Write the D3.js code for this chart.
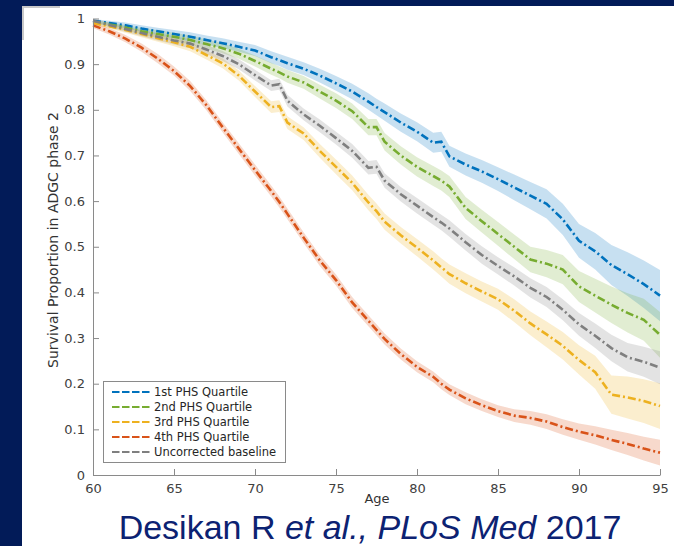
<!DOCTYPE html>
<html>
<head>
<meta charset="utf-8">
<script src="https://cdn.jsdelivr.net/npm/d3@7"></script>
<style>
  body { margin: 0; background: #021b58; }
  svg { display: block; }
</style>
</head>
<body>
<div id="container"></div>
<script>
const width = 674;
const height = 546;

const ages = [60, 61, 62, 63, 64, 65, 66, 67, 68, 69, 70, 71, 71.5, 72, 73, 74, 75, 76, 77, 77.5,
  78, 79, 80, 81, 81.5, 82, 83, 84, 85, 86, 87, 88, 89, 90, 91, 92, 93, 94, 95];

const q1 = [0.995, 0.99, 0.985, 0.978, 0.972, 0.966, 0.96, 0.953, 0.946, 0.938, 0.93, 0.915, 0.909, 0.902, 0.89, 0.875, 0.858, 0.84, 0.818, 0.806,
  0.795, 0.772, 0.752, 0.728, 0.73, 0.698, 0.68, 0.665, 0.648, 0.63, 0.612, 0.594, 0.56, 0.513, 0.49, 0.46, 0.44, 0.418, 0.393];
const q2 = [0.993, 0.987, 0.98, 0.972, 0.966, 0.96, 0.953, 0.944, 0.935, 0.923, 0.907, 0.89, 0.882, 0.873, 0.86, 0.84, 0.82, 0.797, 0.762, 0.762,
  0.73, 0.7, 0.675, 0.655, 0.645, 0.632, 0.585, 0.556, 0.528, 0.5, 0.472, 0.463, 0.45, 0.413, 0.393, 0.373, 0.355, 0.34, 0.307];
const q3 = [0.99, 0.983, 0.975, 0.966, 0.957, 0.948, 0.938, 0.92, 0.902, 0.875, 0.84, 0.806, 0.808, 0.772, 0.748, 0.71, 0.675, 0.64, 0.597, 0.578,
  0.555, 0.525, 0.498, 0.47, 0.455, 0.44, 0.42, 0.402, 0.385, 0.36, 0.332, 0.308, 0.283, 0.252, 0.225, 0.176, 0.17, 0.162, 0.151];
const q4 = [0.985, 0.972, 0.956, 0.936, 0.912, 0.885, 0.852, 0.81, 0.762, 0.715, 0.668, 0.622, 0.598, 0.572, 0.52, 0.47, 0.427, 0.378, 0.338, 0.318,
  0.298, 0.265, 0.237, 0.215, 0.2, 0.187, 0.168, 0.153, 0.14, 0.13, 0.125, 0.117, 0.105, 0.095, 0.087, 0.077, 0.068, 0.058, 0.049];
const base = [0.995, 0.986, 0.977, 0.968, 0.96, 0.952, 0.945, 0.932, 0.918, 0.9, 0.876, 0.853, 0.856, 0.82, 0.79, 0.765, 0.738, 0.71, 0.673, 0.675,
  0.645, 0.615, 0.59, 0.565, 0.553, 0.54, 0.51, 0.482, 0.458, 0.435, 0.41, 0.39, 0.362, 0.33, 0.305, 0.278, 0.258, 0.248, 0.235];

// half width of the shaded band
const q1Band = [0.004, 0.005, 0.006, 0.007, 0.008, 0.009, 0.01, 0.01, 0.011, 0.011, 0.012, 0.013, 0.013, 0.014, 0.014, 0.015, 0.016, 0.017, 0.018, 0.018,
  0.019, 0.02, 0.021, 0.022, 0.022, 0.023, 0.024, 0.025, 0.026, 0.028, 0.03, 0.032, 0.034, 0.037, 0.04, 0.044, 0.048, 0.052, 0.056];
const q2Band = [0.004, 0.005, 0.006, 0.007, 0.008, 0.009, 0.01, 0.01, 0.011, 0.011, 0.012, 0.013, 0.013, 0.014, 0.014, 0.015, 0.016, 0.017, 0.018, 0.018,
  0.019, 0.02, 0.021, 0.022, 0.022, 0.023, 0.024, 0.025, 0.026, 0.027, 0.028, 0.03, 0.032, 0.034, 0.037, 0.04, 0.043, 0.046, 0.05];
const q3Band = [0.004, 0.005, 0.006, 0.007, 0.008, 0.009, 0.01, 0.01, 0.011, 0.011, 0.012, 0.013, 0.013, 0.014, 0.014, 0.015, 0.016, 0.016, 0.017, 0.017,
  0.018, 0.018, 0.019, 0.02, 0.02, 0.021, 0.022, 0.022, 0.023, 0.025, 0.026, 0.028, 0.03, 0.032, 0.036, 0.042, 0.046, 0.048, 0.05];
const q4Band = [0.006, 0.007, 0.008, 0.009, 0.01, 0.01, 0.011, 0.011, 0.011, 0.012, 0.012, 0.012, 0.012, 0.012, 0.012, 0.012, 0.012, 0.012, 0.012, 0.012,
  0.012, 0.012, 0.012, 0.012, 0.012, 0.012, 0.013, 0.013, 0.013, 0.014, 0.015, 0.016, 0.017, 0.018, 0.02, 0.022, 0.024, 0.026, 0.028];
const baseBand = [0.004, 0.005, 0.006, 0.007, 0.008, 0.009, 0.01, 0.01, 0.011, 0.011, 0.012, 0.012, 0.012, 0.013, 0.013, 0.014, 0.014, 0.015, 0.015, 0.015,
  0.016, 0.016, 0.017, 0.017, 0.017, 0.018, 0.018, 0.019, 0.019, 0.02, 0.021, 0.022, 0.023, 0.025, 0.027, 0.029, 0.031, 0.033, 0.036];

const names = ['1st PHS Quartile', '2nd PHS Quartile', '3rd PHS Quartile', '4th PHS Quartile', 'Uncorrected baseline'];
const colors = ['#0072bd', '#77ac30', '#edb120', '#d95319', '#7f7f7f'];
const xTicks = [60, 65, 70, 75, 80, 85, 90, 95];
const yTicks = [0, 0.1, 0.2, 0.3, 0.4, 0.5, 0.6, 0.7, 0.8, 0.9, 1];

const series = [
  {name: names[0], color: colors[0], vals: q1, band: q1Band},
  {name: names[1], color: colors[1], vals: q2, band: q2Band},
  {name: names[2], color: colors[2], vals: q3, band: q3Band},
  {name: names[3], color: colors[3], vals: q4, band: q4Band},
  {name: names[4], color: colors[4], vals: base, band: baseBand}
];

const svg = d3.select('#container').append('svg')
  .attr('width', width)
  .attr('height', height);

// white slide panel
svg.append('rect')
  .attr('x', 22).attr('y', 6)
  .attr('width', width - 22).attr('height', height - 6)
  .attr('fill', '#fff');
svg.append('path')
  .attr('d', 'M23,40V7H60')
  .attr('fill', 'none').attr('stroke', '#c8c8c8').attr('stroke-width', 2);

const x = d3.scaleLinear().domain([60, 95]).range([93, 660]);
const y = d3.scaleLinear().domain([0, 1]).range([475, 18.5]);

const area = d3.area()
  .x((d, i) => x(ages[i]))
  .y0(d => y(d[0] - d[1]))
  .y1(d => y(d[0] + d[1]));

const line = d3.line()
  .x((d, i) => x(ages[i]))
  .y(d => y(d));

const plot = svg.append('g');

plot.selectAll('path.band')
  .data(series)
  .enter()
  .append('path')
  .attr('class', 'band')
  .attr('d', s => area(s.vals.map((v, i) => [v, s.band[i]])))
  .attr('fill', s => s.color)
  .attr('fill-opacity', 0.22);

plot.selectAll('path.curve')
  .data(series)
  .enter()
  .append('path')
  .attr('class', 'curve')
  .attr('d', s => line(s.vals))
  .attr('fill', 'none')
  .attr('stroke', s => s.color)
  .attr('stroke-width', 2.6)
  .attr('stroke-dasharray', '8,3,2,3');

// axes, matlab style (ticks pointing in)
const xAxis = svg.append('g')
  .attr('transform', 'translate(0,475)')
  .call(d3.axisBottom(x).tickValues(xTicks).tickSizeInner(-6).tickSizeOuter(0).tickPadding(6).tickFormat(d3.format('d')));
const yAxis = svg.append('g')
  .attr('transform', 'translate(93,0)')
  .call(d3.axisLeft(y).tickValues(yTicks).tickSizeInner(-6).tickSizeOuter(0).tickPadding(7).tickFormat(d => d === 0 || d === 1 ? d : d3.format('.1f')(d)));

[xAxis, yAxis].forEach(a => {
  a.select('.domain').attr('stroke', '#8a8a8a');
  a.selectAll('.tick line').attr('stroke', '#8a8a8a');
  a.selectAll('.tick text')
    .attr('fill', '#404040')
    .style('font-family', 'DejaVu Sans, sans-serif')
    .style('font-size', '13px');
});
xAxis.selectAll('.tick text').attr('y', 9);
yAxis.selectAll('.tick text').attr('x', -8);

svg.append('text')
  .attr('transform', 'translate(58,240) rotate(-90)')
  .attr('text-anchor', 'middle')
  .attr('fill', '#333')
  .style('font-family', 'DejaVu Sans, sans-serif')
  .style('font-size', '14px')
  .text('Survival Proportion in ADGC phase 2');

svg.append('text')
  .attr('x', 377).attr('y', 503)
  .attr('text-anchor', 'middle')
  .attr('fill', '#333')
  .style('font-family', 'DejaVu Sans, sans-serif')
  .style('font-size', '13px')
  .text('Age');

// legend
const legend = svg.append('g');
legend.append('rect')
  .attr('x', 103.5).attr('y', 381.5)
  .attr('width', 182).attr('height', 81)
  .attr('fill', '#fff')
  .attr('stroke', '#8a8a8a');
const item = legend.selectAll('g.item')
  .data(series)
  .enter()
  .append('g')
  .attr('class', 'item')
  .attr('transform', (d, i) => `translate(0,${392 + i * 15})`);
item.append('line')
  .attr('x1', 112).attr('x2', 150)
  .attr('stroke', d => d.color)
  .attr('stroke-width', 2.2)
  .attr('stroke-dasharray', '7.5,2.5');
item.append('text')
  .attr('x', 154).attr('y', 4)
  .attr('fill', '#262626')
  .style('font-family', 'DejaVu Sans, sans-serif')
  .style('font-size', '11.5px')
  .text(d => d.name);

// citation
const cite = svg.append('text')
  .attr('x', 370).attr('y', 539)
  .attr('text-anchor', 'middle')
  .attr('fill', '#0c2272')
  .style('font-family', 'Liberation Sans, Arial, sans-serif')
  .style('font-size', '34px');
cite.append('tspan').text('Desikan R ');
cite.append('tspan').style('font-style', 'italic').text('et al., PLoS Med');
cite.append('tspan').text(' 2017');
</script>
</body>
</html>
